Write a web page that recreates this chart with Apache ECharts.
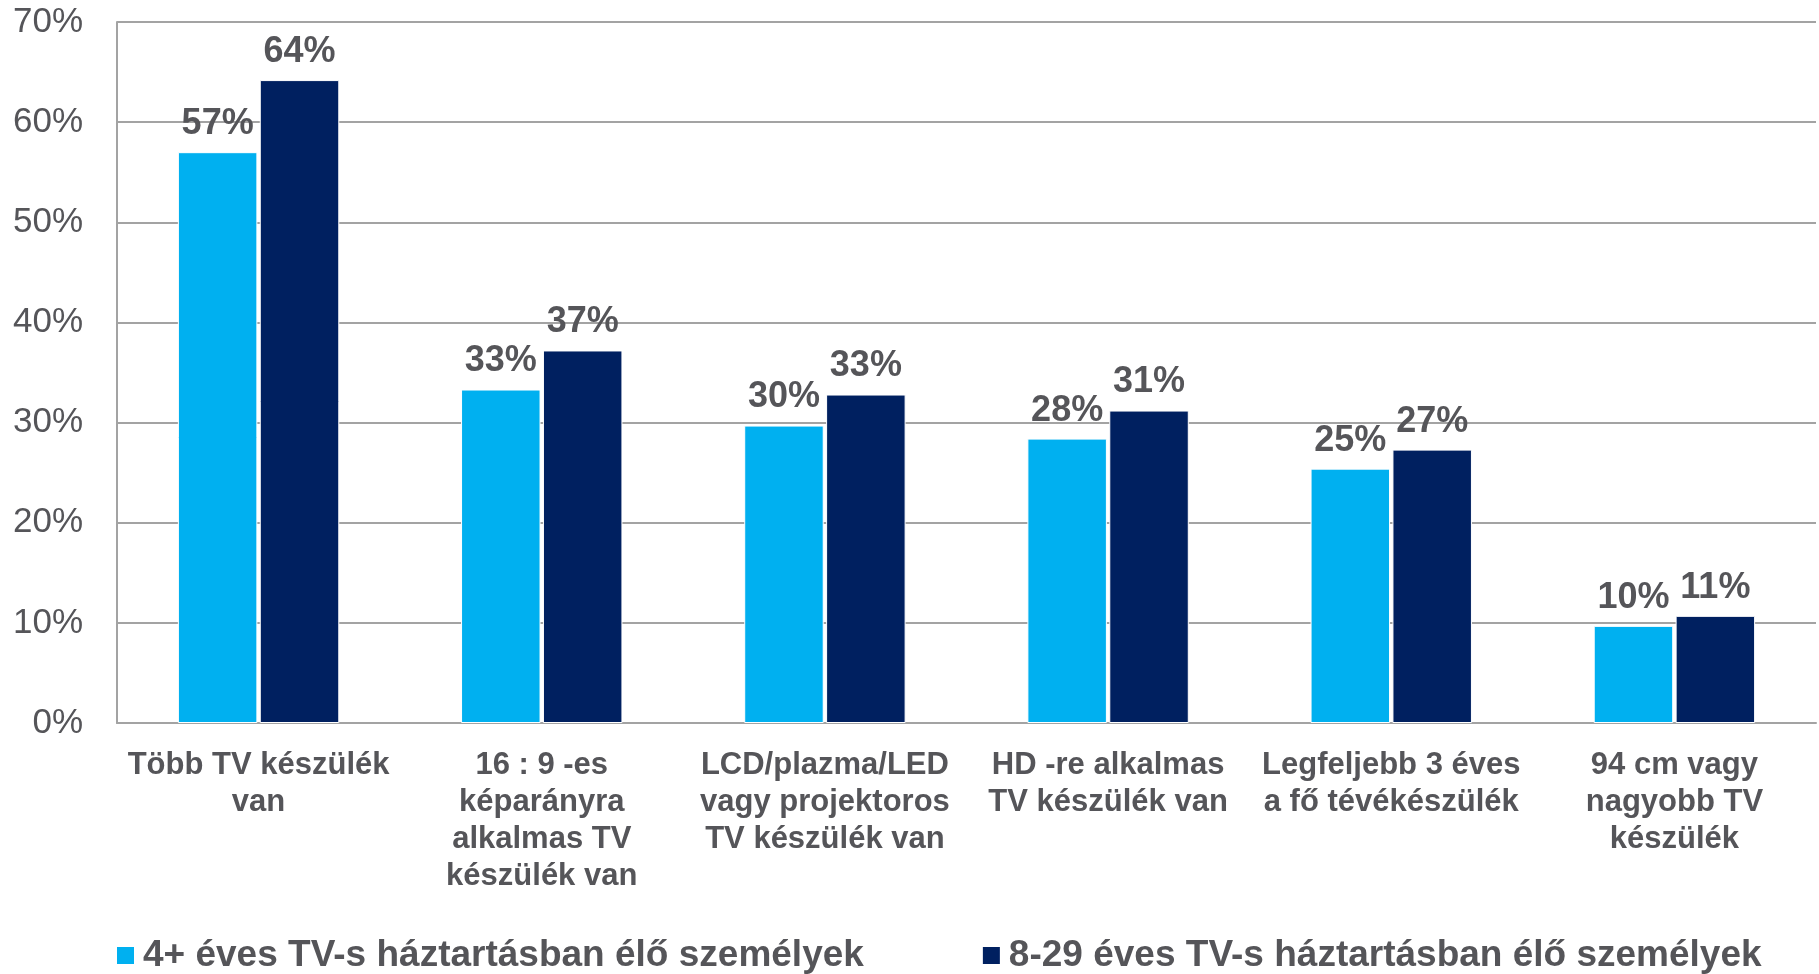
<!DOCTYPE html>
<html>
<head>
<meta charset="utf-8">
<title>TV készülékek</title>
<script src="https://cdn.jsdelivr.net/npm/echarts@6/dist/echarts.min.js"></script>
<style>
  html, body { margin: 0; padding: 0; background: #fff; }
  #chart { width: 1819px; height: 974px; }
</style>
</head>
<body>
<div id="chart"></div>
<script>
// categories (line breaks as in the original)
const categories = [
  'Több TV készülék\nvan',
  '16 : 9 -es\nképarányra\nalkalmas TV\nkészülék van',
  'LCD/plazma/LED\nvagy projektoros\nTV készülék van',
  'HD -re alkalmas\nTV készülék van',
  'Legfeljebb 3 éves\na fő tévékészülék',
  '94 cm vagy\nnagyobb TV\nkészülék'
];
const seriesNames = [
  '4+ éves TV-s háztartásban élő személyek',
  '8-29 éves TV-s háztartásban élő személyek'
];
// percentages
const allAges = [57.0, 33.3, 29.7, 28.4, 25.4, 9.7];
const youngAges = [64.2, 37.2, 32.8, 31.2, 27.3, 10.7];
const yTicks = { min: 0, max: 70, interval: 10 };

const FONT = '"Liberation Sans", Arial, sans-serif';
const TEXT = '#555559';
const GRID = '#a3a3a3';
const colors = ['#00b0f0', '#002060'];

const chart = echarts.init(document.getElementById('chart'));

const valueLabel = {
  show: true,
  position: 'top',
  distance: 10,
  color: TEXT,
  fontFamily: FONT,
  fontWeight: 'bold',
  fontSize: 36,
  formatter: p => Math.round(p.value) + '%'
};

function barSeries(name, data, color) {
  return {
    name,
    type: 'bar',
    data,
    barCategoryGap: '43%',
    barGap: '3%',
    itemStyle: { color, borderColor: '#ffffff', borderWidth: 1 },
    label: valueLabel
  };
}

chart.setOption({
  animation: false,
  backgroundColor: '#ffffff',
  color: colors,
  grid: { left: 117, right: 3, top: 22, bottom: 251, containLabel: false },
  legend: {
    left: 115,
    top: 937,
    padding: 0,
    icon: 'rect',
    itemWidth: 19,
    itemHeight: 19,
    itemGap: 117,
    textStyle: {
      color: TEXT,
      fontFamily: FONT,
      fontWeight: 'bold',
      fontSize: 37,
      padding: [0, 0, 0, 3]
    },
    data: seriesNames
  },
  xAxis: {
    type: 'category',
    data: categories,
    axisLine: { show: true, lineStyle: { color: GRID, width: 2 } },
    axisTick: { show: false },
    axisLabel: {
      interval: 0,
      margin: 24,
      color: TEXT,
      fontFamily: FONT,
      fontWeight: 'bold',
      fontSize: 31,
      lineHeight: 37,
      align: 'center'
    }
  },
  yAxis: {
    type: 'value',
    min: yTicks.min,
    max: yTicks.max,
    interval: yTicks.interval,
    axisLine: { show: true, lineStyle: { color: GRID, width: 2 } },
    axisTick: { show: false },
    splitLine: { show: true, lineStyle: { color: GRID, width: 2 } },
    axisLabel: {
      margin: 34,
      color: TEXT,
      fontFamily: FONT,
      fontSize: 35,
      formatter: v => v + '%'
    }
  },
  series: [
    barSeries(seriesNames[0], allAges, colors[0]),
    barSeries(seriesNames[1], youngAges, colors[1])
  ]
});

window.addEventListener('resize', () => chart.resize());
</script>
</body>
</html>
